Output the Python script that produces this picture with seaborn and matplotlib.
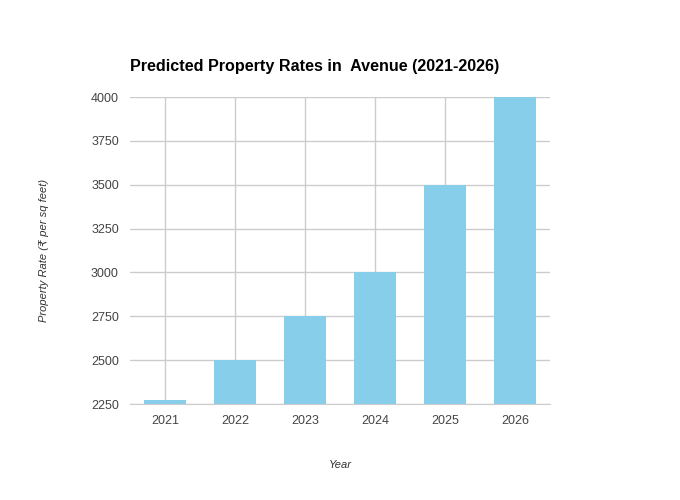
import matplotlib
matplotlib.use("Agg")
import matplotlib.pyplot as plt
import pandas as pd
import seaborn as sns

years = ["2021", "2022", "2023", "2024", "2025", "2026"]
rates = [2275, 2500, 2750, 3000, 3500, 4000]
y_ticks = [2250, 2500, 2750, 3000, 3250, 3500, 3750, 4000]

data = pd.DataFrame({"Year": years, "Rate": rates})

sns.set_style("white")
plt.rcParams["font.family"] = ["Liberation Sans", "DejaVu Sans"]

fig = plt.figure(figsize=(6.8, 5), dpi=100)
ax = fig.add_axes([130 / 680, 1 - 404 / 500, 420 / 680, 307 / 500])

ax.set_axisbelow(True)
sns.barplot(ax=ax, data=data, x="Year", y="Rate", color="#87ceeb",
            width=0.61, saturation=1, linewidth=0)

ax.set_ylim(2250, 4000)
ax.set_yticks(y_ticks)
ax.set_xlim(-0.5, len(years) - 0.5)
ax.grid(True, color="#cccccc", linewidth=1)
for s in ["top", "right", "left"]:
    ax.spines[s].set_visible(False)
ax.spines["bottom"].set_color("#cccccc")
ax.tick_params(axis="both", length=0, labelsize=9, labelcolor="#444444", pad=8)

ax.set_xlabel("Year", fontsize=8, style="italic", color="#333333", labelpad=24)
ax.set_ylabel("Property Rate (₹ per sq feet)", fontsize=8, style="italic",
              color="#333333", labelpad=30)
ax.set_title("Predicted Property Rates in  Avenue (2021-2026)", fontsize=11.6,
             fontweight="bold", loc="left", pad=19, color="#000000")

fig.savefig("out.png", dpi=100)
